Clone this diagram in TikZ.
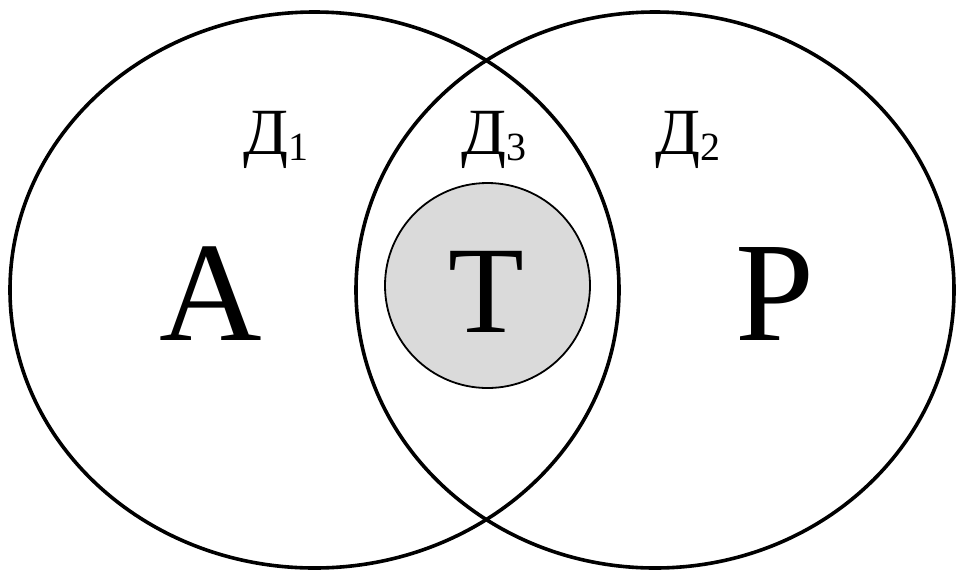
\documentclass[tikz,border=0pt]{standalone}
\usepackage{fontspec}
\setmainfont{Liberation Serif}
\usetikzlibrary{shapes.geometric}

\newcommand{\dsub}[1]{Д\raisebox{-6pt}{\fontsize{40}{40}\selectfont #1}}

\begin{document}
\begin{tikzpicture}[x=1pt,y=-1pt,
                    set/.style={ellipse,draw,line width=3.6pt,inner sep=0pt,outer sep=0pt},
                    big/.style={anchor=base,inner sep=0pt,font=\fontsize{142}{142}\selectfont},
                    zone/.style={anchor=base west,inner sep=0pt,font=\fontsize{66}{66}\selectfont}]
  \useasboundingbox (0,0) rectangle (957,574);
  % the two sets
  \node[set,minimum width=609pt,minimum height=556pt] (left) at (314.5,290) {};
  \node[set,minimum width=598pt,minimum height=556pt] (right) at (655,290) {};
  % the common core
  \node[circle,draw,line width=1.8pt,fill={rgb,255:red,218;green,218;blue,218},
        minimum size=205pt,inner sep=0pt] (core) at (487.5,285.5) {};
  % letters
  \node[big] (a) at (211,340) {А};
  \node[big,font=\fontsize{124}{124}\selectfont] (t) at (486,332) {Т};
  \node[big] (p) at (775,340) {Р};
  % zone labels
  \node[zone] (d1) at (243,154) {\dsub{1}};
  \node[zone] (d3) at (461,154) {\dsub{3}};
  \node[zone] (d2) at (655,154) {\dsub{2}};
\end{tikzpicture}
\end{document}
